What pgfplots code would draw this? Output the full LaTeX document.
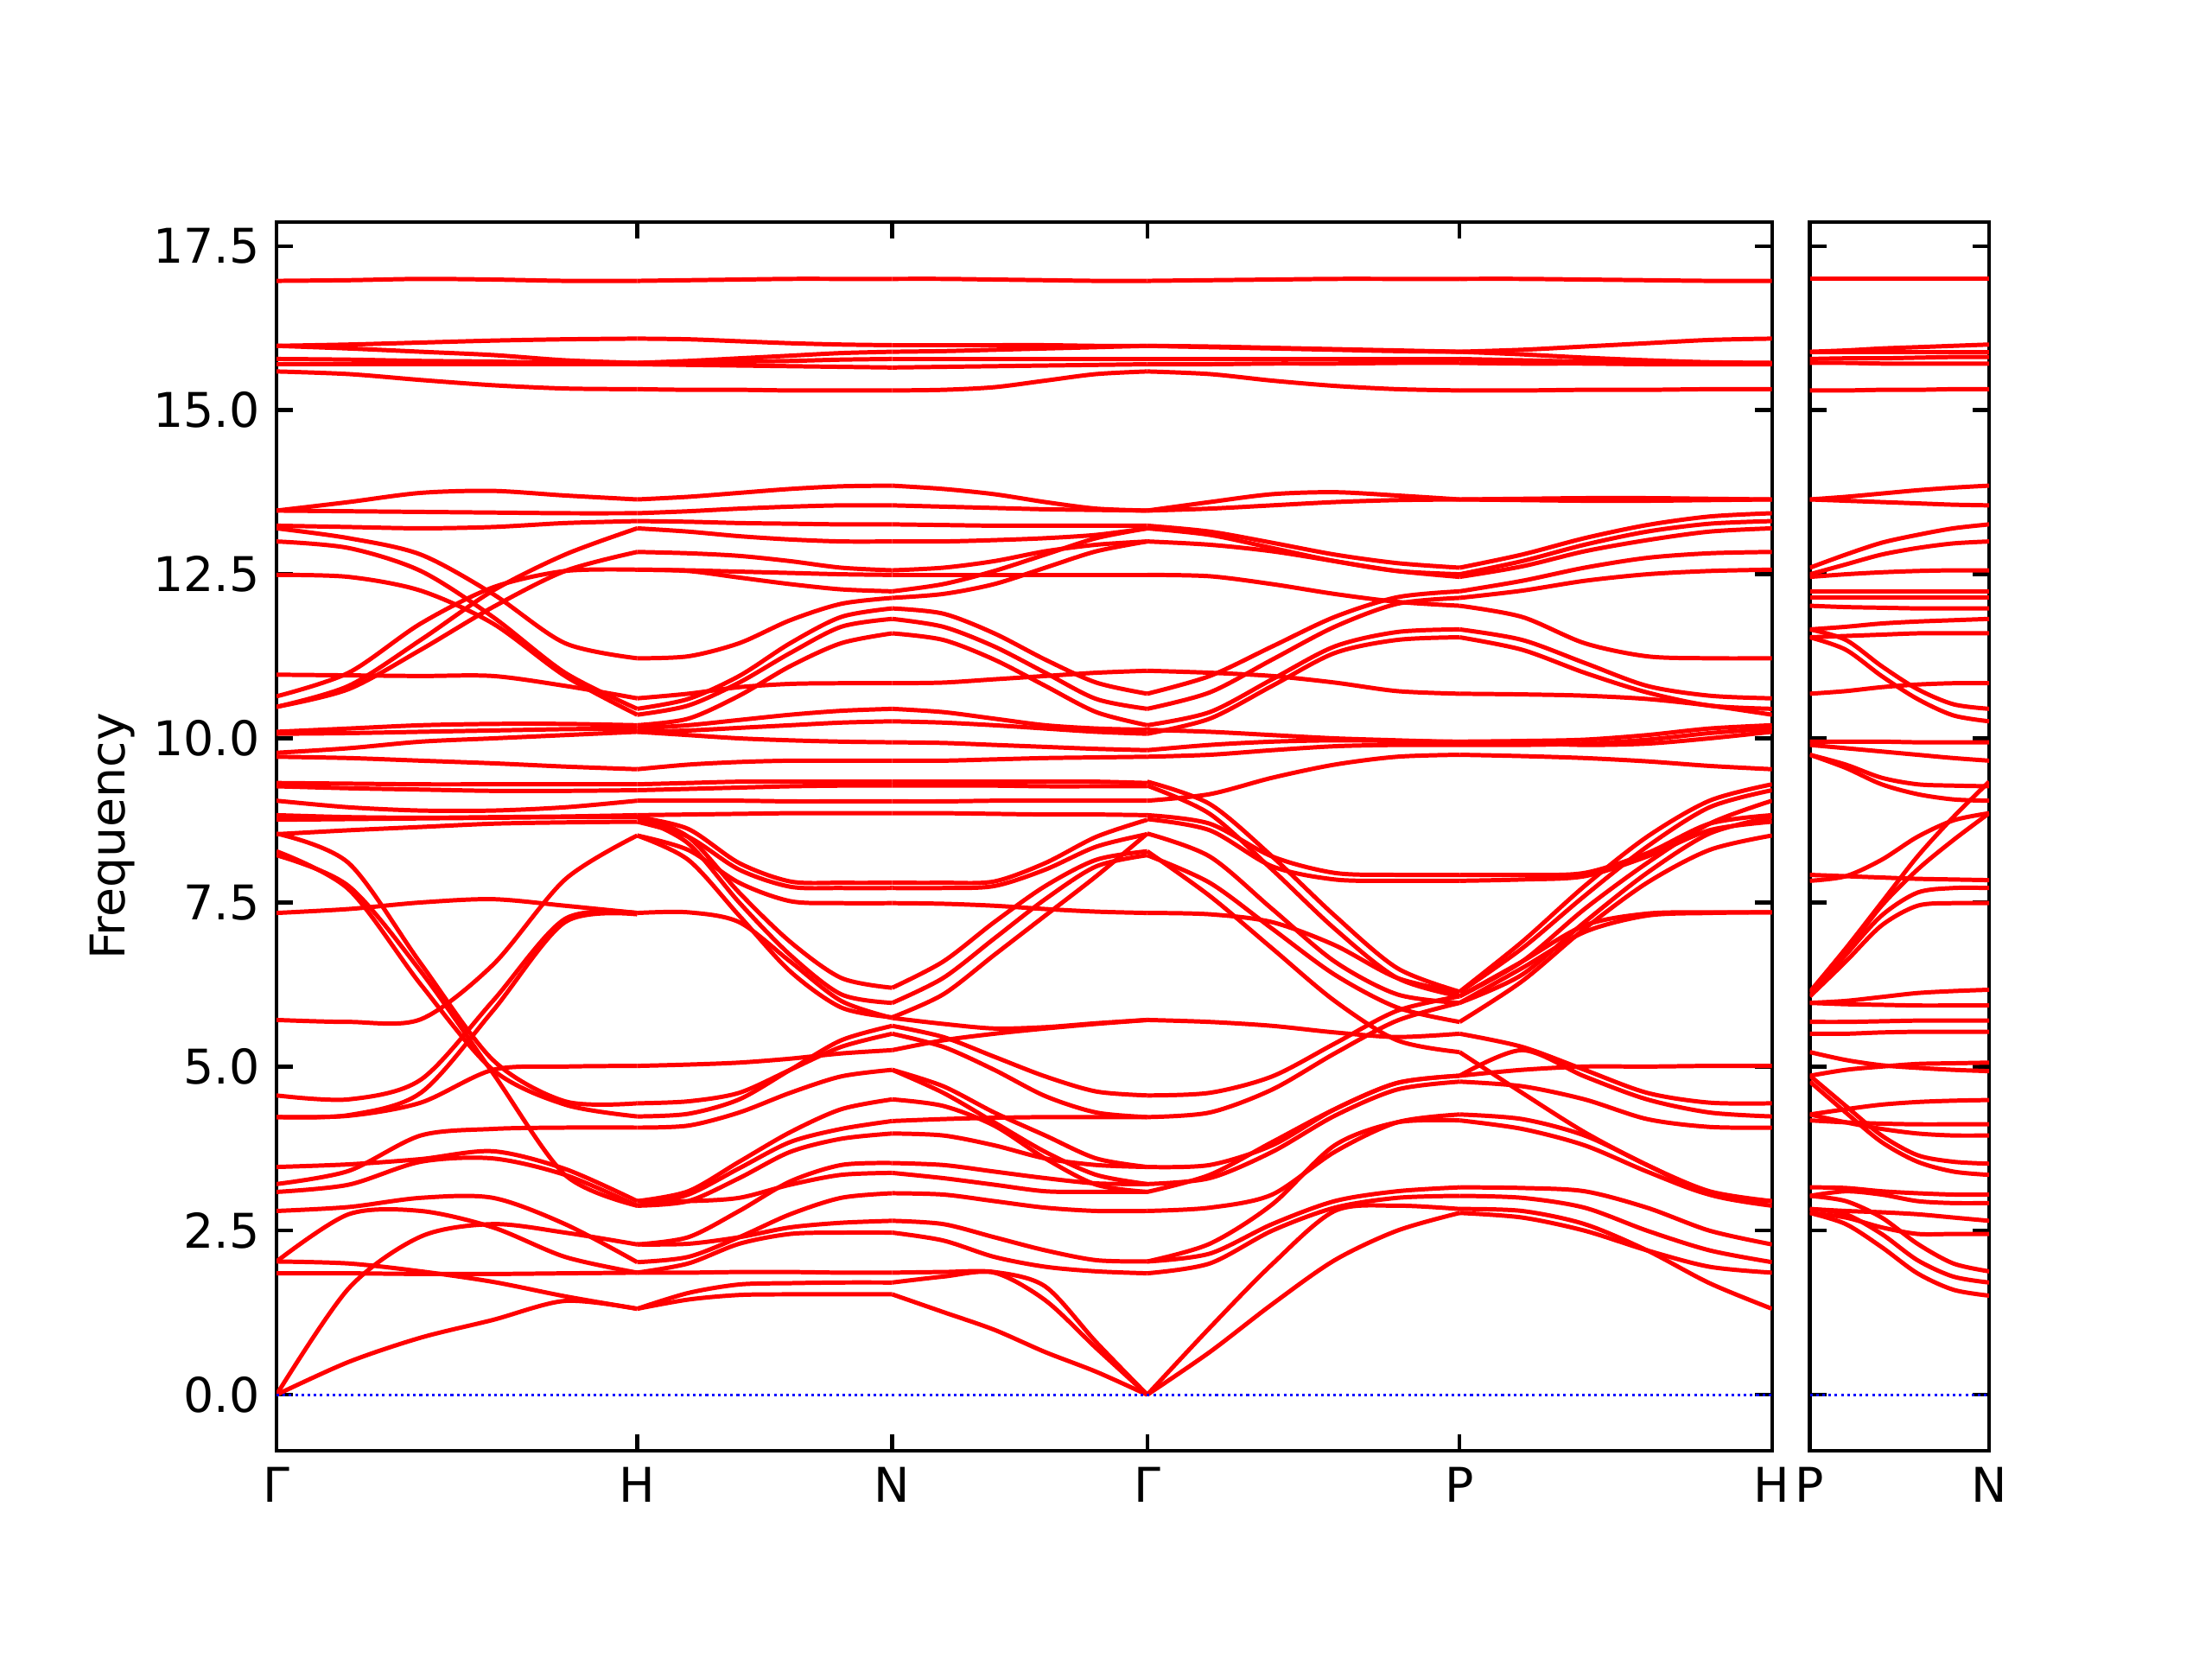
\documentclass[border=0pt]{standalone}
\usepackage{fontspec}
\setmainfont{DejaVu Sans}
\usepackage{pgfplots}
\pgfplotsset{compat=1.18}
\pgfplotsset{
  band/.style={color=red, line width=0.9pt, smooth, tension=0.5, mark=none},
  commonax/.style={scale only axis, ymin=-0.854, ymax=17.866,
    ytick={0,2.5,5,7.5,10,12.5,15,17.5},
    tick align=inside, major tick length=3.5pt,
    axis line style={line width=0.8pt},
    every tick/.style={black, line width=0.8pt},
    tick label style={font=\fontsize{10}{12}\selectfont},
    label style={font=\fontsize{10}{12}\selectfont}}
}
% Gamma->H, H->N, N->Gamma, Gamma->P, P->H ; second panel P->N
\def\SA#1 #2 #3 #4 #5 #6;{\addplot[band] coordinates {(0,#1)(0.2,#2)(0.4,#3)(0.6,#4)(0.8,#5)(1,#6)};}
\def\SB#1 #2 #3 #4 #5 #6;{\addplot[band] coordinates {(1,#1)(1.14142,#2)(1.28284,#3)(1.42426,#4)(1.56568,#5)(1.70711,#6)};}
\def\SC#1 #2 #3 #4 #5 #6;{\addplot[band] coordinates {(1.70711,#1)(1.84853,#2)(1.98995,#3)(2.13137,#4)(2.27279,#5)(2.41421,#6)};}
\def\SD#1 #2 #3 #4 #5 #6;{\addplot[band] coordinates {(2.41421,#1)(2.58742,#2)(2.76063,#3)(2.93383,#4)(3.10704,#5)(3.28024,#6)};}
\def\SE#1 #2 #3 #4 #5 #6;{\addplot[band] coordinates {(3.28024,#1)(3.45345,#2)(3.62665,#3)(3.79986,#4)(3.97306,#5)(4.14627,#6)};}
\def\SF#1 #2 #3 #4 #5 #6;{\addplot[band] coordinates {(0,#1)(0.1,#2)(0.2,#3)(0.3,#4)(0.4,#5)(0.5,#6)};}
\begin{document}
\begin{tikzpicture}
\useasboundingbox (0,0) rectangle (16.256cm,12.192cm);
\begin{axis}[commonax, at={(2.032cm,1.530cm)}, anchor=south west,
  width=10.990cm, height=9.030cm, xmin=0, xmax=4.14627,
  xtick={0,1,1.70711,2.41421,3.28024,4.14627},
  xticklabels={Γ,H,N,Γ,P,H},
  yticklabels={0.0,2.5,5.0,7.5,10.0,12.5,15.0,17.5},
  ylabel={Frequency},
  ylabel style={at={(axis description cs:-0.1095,0.5)}, anchor=center}]
% ---------- Gamma -> H
\SA 16.97 16.98 17.0 16.99 16.97 16.97;
\SA 15.98 16.0 16.03 16.06 16.08 16.09;
\SA 15.98 15.94 15.89 15.84 15.76 15.72;
\SA 15.78 15.77 15.75 15.74 15.72 15.72;
\SA 15.70 15.70 15.70 15.70 15.70 15.70;
\SA 15.59 15.55 15.46 15.38 15.33 15.32;
\SA 13.47 13.6 13.74 13.77 13.7 13.64;
\SA 13.47 13.46 13.45 13.44 13.43 13.43;
\SA 13.24 13.22 13.2 13.22 13.28 13.31;
\SA 13.2 13.05 12.8 12.2 11.45 11.22;
\SA 13.0 12.9 12.55 11.85 11.0 10.45;
\SA 12.49 12.46 12.25 11.75 10.95 10.36;
\SA 10.48 10.8 11.5 12.25 12.8 13.2;
\SA 10.64 11.0 11.75 12.3 12.55 12.57;
\SA 10.48 10.75 11.35 12.0 12.55 12.84;
\SA 10.97 10.96 10.95 10.95 10.8 10.61;
\SA 10.10 10.15 10.2 10.22 10.22 10.2;
\SA 10.07 10.08 10.1 10.12 10.14 10.15;
\SA 9.78 9.85 9.95 10.0 10.05 10.1;
\SA 9.72 9.7 9.66 9.62 9.57 9.53;
\SA 9.32 9.31 9.3 9.3 9.3 9.3;
\SA 9.27 9.24 9.22 9.2 9.2 9.21;
\SA 9.05 8.95 8.9 8.9 8.95 9.05;
\SA 8.83 8.8 8.79 8.8 8.81 8.83;
\SA 8.76 8.77 8.78 8.79 8.8 8.8;
\SA 8.54 8.6 8.65 8.7 8.72 8.73;
\SA 8.55 8.1 6.57 5.1 4.47 4.44;
\SA 8.28 7.7 6.25 4.95 4.42 4.24;
\SA 8.22 7.75 6.45 4.9 3.35 2.88;
\SA 7.34 7.4 7.5 7.55 7.45 7.34;
\SA 5.71 5.68 5.72 6.55 7.85 8.52;
\SA 4.56 4.5 4.8 6.0 7.25 7.34;
\SA 4.23 4.26 4.6 5.85 7.2 7.32;
\SA 4.23 4.25 4.45 4.95 5.0 5.01;
\SA 3.47 3.51 3.59 3.71 3.44 2.95;
\SA 3.21 3.41 3.95 4.05 4.07 4.07;
\SA 3.09 3.2 3.55 3.6 3.35 2.88;
\SA 2.80 2.86 3.0 3.0 2.6 2.02;
\SA 2.03 2.75 2.8 2.55 2.1 1.86;
\SA 1.85 1.85 1.84 1.84 1.85 1.86;
\SA 2.03 2.0 1.88 1.72 1.5 1.31;
\SA 0 1.62 2.41 2.6 2.47 2.29;
\SA 0 0.5 0.87 1.14 1.43 1.31;
% ---------- H -> N
\SB 16.97 16.98 16.99 17.0 17.0 17.0;
\SB 16.09 16.08 16.05 16.02 16.0 15.99;
\SB 15.72 15.75 15.79 15.83 15.87 15.89;
\SB 15.72 15.73 15.74 15.75 15.77 15.78;
\SB 15.70 15.69 15.68 15.67 15.66 15.65;
\SB 15.32 15.31 15.31 15.3 15.3 15.3;
\SB 13.64 13.68 13.74 13.8 13.84 13.85;
\SB 13.43 13.46 13.5 13.53 13.55 13.55;
\SB 13.31 13.3 13.28 13.27 13.26 13.26;
\SB 13.2 13.15 13.08 13.03 13.0 13.0;
\SB 12.84 12.82 12.78 12.7 12.6 12.56;
\SB 12.57 12.56 12.54 12.52 12.5 12.49;
\SB 12.57 12.55 12.45 12.35 12.27 12.24;
\SB 11.22 11.25 11.45 11.8 12.05 12.14;
\SB 10.61 10.68 10.78 10.83 10.84 10.84;
\SB 10.45 10.6 10.95 11.45 11.85 11.98;
\SB 10.36 10.5 10.85 11.3 11.7 11.82;
\SB 10.2 10.3 10.65 11.1 11.45 11.6;
\SB 10.15 10.2 10.28 10.36 10.42 10.45;
\SB 10.1 10.12 10.16 10.2 10.24 10.26;
\SB 10.1 10.05 10.0 9.97 9.95 9.94;
\SB 9.53 9.6 9.64 9.66 9.66 9.66;
\SB 9.3 9.32 9.34 9.34 9.34 9.34;
\SB 9.21 9.23 9.25 9.27 9.28 9.28;
\SB 9.05 9.05 9.05 9.04 9.04 9.04;
\SB 8.83 8.84 8.85 8.86 8.86 8.86;
\SB 8.8 8.62 8.1 7.82 7.8 7.8;
\SB 8.73 8.5 8.0 7.74 7.72 7.72;
\SB 8.52 8.3 7.8 7.52 7.49 7.49;
\SB 8.83 8.5 7.65 6.9 6.35 6.2;
\SB 8.8 8.4 7.5 6.7 6.1 5.97;
\SB 8.52 8.15 7.3 6.45 5.9 5.75;
\SB 7.34 7.35 7.2 6.6 6.0 5.74;
\SB 5.01 5.03 5.06 5.12 5.2 5.25;
\SB 4.44 4.47 4.6 4.95 5.3 5.5;
\SB 4.24 4.28 4.5 4.95 5.4 5.62;
\SB 4.07 4.1 4.3 4.6 4.85 4.95;
\SB 2.95 3.1 3.55 4.0 4.35 4.5;
\SB 2.88 3.05 3.45 3.85 4.05 4.17;
\SB 2.88 2.95 3.3 3.7 3.9 3.98;
\SB 2.95 2.95 3.0 3.2 3.35 3.38;
\SB 2.29 2.4 2.8 3.25 3.5 3.53;
\SB 2.02 2.1 2.4 2.75 3.0 3.07;
\SB 2.29 2.3 2.4 2.55 2.62 2.65;
\SB 1.86 2.0 2.3 2.45 2.47 2.47;
\SB 1.86 1.86 1.87 1.87 1.86 1.86;
\SB 1.31 1.55 1.68 1.7 1.71 1.71;
\SB 1.31 1.45 1.52 1.53 1.53 1.53;
% ---------- N -> Gamma
\SC 17.0 17.0 16.99 16.98 16.97 16.97;
\SC 15.99 15.99 15.99 15.99 15.98 15.98;
\SC 15.89 15.9 15.92 15.94 15.96 15.98;
\SC 15.78 15.78 15.78 15.78 15.78 15.78;
\SC 15.65 15.66 15.67 15.68 15.69 15.70;
\SC 15.30 15.31 15.35 15.45 15.55 15.59;
\SC 13.85 13.8 13.72 13.6 13.5 13.47;
\SC 13.55 13.53 13.51 13.49 13.48 13.47;
\SC 13.26 13.25 13.24 13.24 13.24 13.24;
\SC 13.0 13.0 13.02 13.05 13.1 13.2;
\SC 12.56 12.6 12.7 12.85 12.95 13.0;
\SC 12.49 12.49 12.49 12.49 12.49 12.49;
\SC 12.24 12.35 12.55 12.8 13.05 13.2;
\SC 12.14 12.2 12.35 12.6 12.85 13.0;
\SC 11.98 11.9 11.6 11.2 10.85 10.68;
\SC 11.82 11.7 11.4 11.0 10.6 10.45;
\SC 11.6 11.5 11.2 10.8 10.4 10.2;
\SC 10.84 10.85 10.9 10.95 11.0 11.03;
\SC 10.45 10.4 10.3 10.2 10.15 10.13;
\SC 10.26 10.24 10.2 10.15 10.1 10.07;
\SC 9.94 9.93 9.9 9.87 9.84 9.82;
\SC 9.66 9.66 9.68 9.7 9.71 9.72;
\SC 9.34 9.34 9.34 9.34 9.34 9.32;
\SC 9.28 9.28 9.28 9.27 9.27 9.27;
\SC 9.04 9.04 9.05 9.05 9.05 9.05;
\SC 8.86 8.86 8.85 8.84 8.84 8.83;
\SC 7.8 7.8 7.82 8.1 8.5 8.76;
\SC 7.72 7.72 7.75 8.0 8.35 8.54;
\SC 7.49 7.48 7.45 7.4 7.36 7.34;
\SC 6.2 6.6 7.2 7.75 8.15 8.28;
\SC 5.97 6.35 6.95 7.55 8.05 8.22;
\SC 5.75 6.1 6.7 7.3 7.9 8.55;
\SC 5.74 5.65 5.58 5.6 5.66 5.71;
\SC 5.62 5.45 5.15 4.85 4.62 4.56;
\SC 5.5 5.3 4.95 4.55 4.3 4.23;
\SC 5.25 5.4 5.5 5.58 5.65 5.71;
\SC 4.95 4.7 4.3 3.95 3.6 3.47;
\SC 4.95 4.6 4.15 3.7 3.35 3.21;
\SC 4.5 4.4 4.1 3.6 3.2 3.09;
\SC 4.17 4.2 4.22 4.23 4.23 4.23;
\SC 3.98 3.95 3.8 3.6 3.5 3.47;
\SC 3.53 3.5 3.4 3.3 3.22 3.21;
\SC 3.38 3.3 3.2 3.1 3.09 3.09;
\SC 3.07 3.05 2.95 2.85 2.8 2.80;
\SC 2.65 2.6 2.4 2.2 2.05 2.03;
\SC 2.47 2.35 2.1 1.95 1.88 1.85;
\SC 1.86 1.87 1.87 1.65 0.8 0;
\SC 1.71 1.8 1.86 1.44 0.71 0;
\SC 1.53 1.26 0.99 0.65 0.35 0;
% ---------- Gamma -> P
\SD 16.97 16.98 16.99 17.0 17.0 17.0;
\SD 15.98 15.97 15.95 15.93 15.91 15.89;
\SD 15.98 15.96 15.94 15.92 15.9 15.89;
\SD 15.78 15.78 15.78 15.78 15.78 15.78;
\SD 15.70 15.7 15.71 15.71 15.72 15.72;
\SD 15.59 15.55 15.45 15.37 15.32 15.3;
\SD 13.47 13.6 13.72 13.75 13.7 13.64;
\SD 13.47 13.5 13.55 13.6 13.63 13.64;
\SD 13.24 13.15 12.98 12.8 12.67 12.6;
\SD 13.2 13.1 12.9 12.7 12.55 12.5;
\SD 13.0 12.95 12.85 12.7 12.55 12.46;
\SD 12.49 12.47 12.35 12.2 12.08 12.02;
\SD 10.68 10.95 11.4 11.85 12.15 12.24;
\SD 10.45 10.7 11.2 11.7 12.05 12.14;
\SD 10.2 10.4 10.9 11.4 11.62 11.66;
\SD 10.07 10.3 10.8 11.3 11.5 11.54;
\SD 11.03 11.0 10.95 10.85 10.72 10.68;
\SD 9.82 9.9 9.95 9.97 9.96 9.95;
\SD 9.72 9.75 9.82 9.88 9.9 9.9;
\SD 10.13 10.1 10.05 10.0 9.97 9.94;
\SD 9.05 9.15 9.4 9.6 9.72 9.75;
\SD 9.34 9.0 8.2 7.3 6.5 6.14;
\SD 9.28 8.85 8.0 7.1 6.35 6.07;
\SD 8.83 8.7 8.2 7.95 7.92 7.92;
\SD 8.77 8.6 8.05 7.85 7.83 7.83;
\SD 8.55 8.2 7.4 6.6 6.1 5.97;
\SD 8.28 7.6 6.8 6.0 5.4 5.22;
\SD 8.22 7.8 7.1 6.4 5.9 5.68;
\SD 7.34 7.32 7.2 6.85 6.35 6.13;
\SD 5.71 5.68 5.62 5.52 5.45 5.5;
\SD 4.56 4.6 4.85 5.35 5.85 6.07;
\SD 4.23 4.3 4.65 5.2 5.7 5.97;
\SD 3.47 3.5 3.8 4.35 4.75 4.86;
\SD 3.21 3.3 3.7 4.25 4.65 4.77;
\SD 3.09 3.35 3.85 4.35 4.75 4.86;
\SD 2.80 2.85 3.05 3.7 4.15 4.27;
\SD 2.03 2.3 2.9 3.8 4.15 4.18;
\SD 2.03 2.15 2.6 2.95 3.1 3.16;
\SD 1.85 2.0 2.5 2.85 3.0 3.03;
\SD 0 1.02 1.99 2.8 2.88 2.83;
\SD 0 0.65 1.38 2.05 2.5 2.77;
% ---------- P -> H
\SE 17.0 17.0 16.99 16.98 16.97 16.97;
\SE 15.89 15.92 15.97 16.02 16.07 16.09;
\SE 15.89 15.85 15.8 15.76 15.73 15.72;
\SE 15.78 15.76 15.74 15.73 15.72 15.72;
\SE 15.72 15.71 15.71 15.7 15.7 15.70;
\SE 15.3 15.3 15.31 15.31 15.32 15.32;
\SE 13.64 13.65 13.66 13.66 13.65 13.64;
\SE 13.64 13.63 13.62 13.62 13.63 13.64;
\SE 12.6 12.8 13.05 13.25 13.38 13.43;
\SE 12.5 12.7 12.95 13.15 13.27 13.31;
\SE 12.46 12.62 12.85 13.02 13.15 13.2;
\SE 12.24 12.4 12.6 12.75 12.82 12.84;
\SE 12.14 12.25 12.4 12.5 12.55 12.57;
\SE 12.02 11.85 11.45 11.25 11.22 11.22;
\SE 11.66 11.5 11.15 10.8 10.65 10.61;
\SE 11.54 11.35 11.0 10.7 10.5 10.45;
\SE 10.68 10.67 10.65 10.6 10.5 10.36;
\SE 9.95 9.96 9.98 10.05 10.15 10.2;
\SE 9.9 9.9 9.92 9.98 10.08 10.15;
\SE 9.94 9.93 9.9 9.92 10.0 10.1;
\SE 9.75 9.73 9.7 9.65 9.58 9.53;
\SE 7.92 7.92 7.95 8.25 8.7 8.83;
\SE 7.83 7.85 7.9 8.2 8.6 8.73;
\SE 6.14 6.9 7.75 8.5 9.05 9.3;
\SE 6.13 6.8 7.6 8.35 8.95 9.21;
\SE 6.07 6.6 7.4 8.1 8.7 9.05;
\SE 6.07 6.6 7.15 7.33 7.35 7.35;
\SE 5.97 6.4 7.2 7.95 8.55 8.8;
\SE 5.97 6.5 7.05 7.3 7.34 7.35;
\SE 5.68 6.3 7.1 7.8 8.3 8.52;
\SE 5.5 5.3 4.95 4.6 4.45 4.44;
\SE 5.22 4.6 4.0 3.5 3.1 2.95;
\SE 4.86 5.25 4.85 4.5 4.3 4.24;
\SE 4.86 4.95 5.0 5.0 5.01 5.01;
\SE 4.77 4.7 4.5 4.2 4.08 4.07;
\SE 4.27 4.2 3.95 3.5 3.05 2.88;
\SE 4.18 4.05 3.8 3.4 3.05 2.95;
\SE 3.16 3.15 3.1 2.85 2.5 2.29;
\SE 3.03 3.0 2.85 2.5 2.2 2.02;
\SE 2.83 2.8 2.6 2.2 1.7 1.31;
\SE 2.77 2.7 2.5 2.2 1.95 1.86;
\addplot[blue, line width=0.55pt, dash pattern=on 0.55pt off 0.75pt] coordinates {(0,0) (4.14627,0)};
\end{axis}
\begin{axis}[commonax, at={(13.301cm,1.530cm)}, anchor=south west,
  width=1.317cm, height=9.030cm, xmin=0, xmax=0.5,
  xtick={0,0.5}, xticklabels={P,N}, yticklabels={}]
\SF 17.0 17.0 17.0 17.0 17.0 17.0;
\SF 15.89 15.91 15.94 15.96 15.98 16.0;
\SF 15.89 15.89 15.89 15.89 15.89 15.89;
\SF 15.78 15.79 15.79 15.8 15.81 15.81;
\SF 15.72 15.72 15.71 15.71 15.71 15.71;
\SF 15.3 15.3 15.31 15.31 15.32 15.32;
\SF 13.64 13.68 13.73 13.78 13.82 13.85;
\SF 13.64 13.62 13.6 13.58 13.56 13.55;
\SF 12.6 12.8 12.98 13.1 13.2 13.26;
\SF 12.5 12.65 12.8 12.9 12.97 13.0;
\SF 12.46 12.5 12.53 12.55 12.56 12.56;
\SF 12.24 12.24 12.24 12.24 12.24 12.24;
\SF 12.14 12.14 12.14 12.14 12.14 12.14;
\SF 12.02 12.0 11.99 11.98 11.98 11.98;
\SF 11.66 11.7 11.75 11.78 11.8 11.82;
\SF 11.54 11.56 11.58 11.6 11.6 11.6;
\SF 11.66 11.5 11.1 10.75 10.52 10.45;
\SF 11.54 11.35 10.95 10.6 10.35 10.26;
\SF 10.68 10.72 10.78 10.82 10.84 10.84;
\SF 9.95 9.95 9.95 9.94 9.94 9.94;
\SF 9.9 9.85 9.8 9.75 9.7 9.66;
\SF 9.75 9.6 9.4 9.3 9.28 9.27;
\SF 9.75 9.55 9.3 9.15 9.07 9.05;
\SF 7.92 7.9 7.88 7.86 7.85 7.84;
\SF 7.83 7.9 8.15 8.5 8.75 8.86;
\SF 6.14 6.8 7.5 8.2 8.8 9.34;
\SF 6.13 6.75 7.45 8.0 8.45 8.86;
\SF 6.07 6.7 7.3 7.65 7.72 7.72;
\SF 6.07 6.6 7.15 7.45 7.49 7.49;
\SF 5.97 6.0 6.06 6.12 6.15 6.17;
\SF 5.97 5.95 5.94 5.93 5.93 5.93;
\SF 5.68 5.68 5.69 5.7 5.7 5.7;
\SF 5.5 5.5 5.52 5.53 5.53 5.53;
\SF 5.22 5.1 5.02 4.98 4.95 4.93;
\SF 4.86 4.95 5.0 5.04 5.05 5.06;
\SF 4.77 4.3 3.85 3.55 3.4 3.35;
\SF 4.86 4.4 3.95 3.65 3.55 3.52;
\SF 4.27 4.35 4.42 4.46 4.48 4.49;
\SF 4.18 4.15 4.13 4.12 4.12 4.12;
\SF 4.27 4.15 4.05 3.98 3.95 3.95;
\SF 3.16 3.15 3.1 3.07 3.05 3.05;
\SF 3.03 3.1 3.05 2.95 2.92 2.92;
\SF 2.83 2.8 2.78 2.75 2.7 2.65;
\SF 2.77 2.7 2.55 2.45 2.45 2.45;
\SF 3.03 2.95 2.7 2.3 2.0 1.88;
\SF 2.83 2.75 2.45 2.05 1.8 1.71;
\SF 2.77 2.6 2.25 1.85 1.6 1.51;
\addplot[blue, line width=0.55pt, dash pattern=on 0.55pt off 0.75pt] coordinates {(0,0) (0.5,0)};
\end{axis}
\end{tikzpicture}
\end{document}
